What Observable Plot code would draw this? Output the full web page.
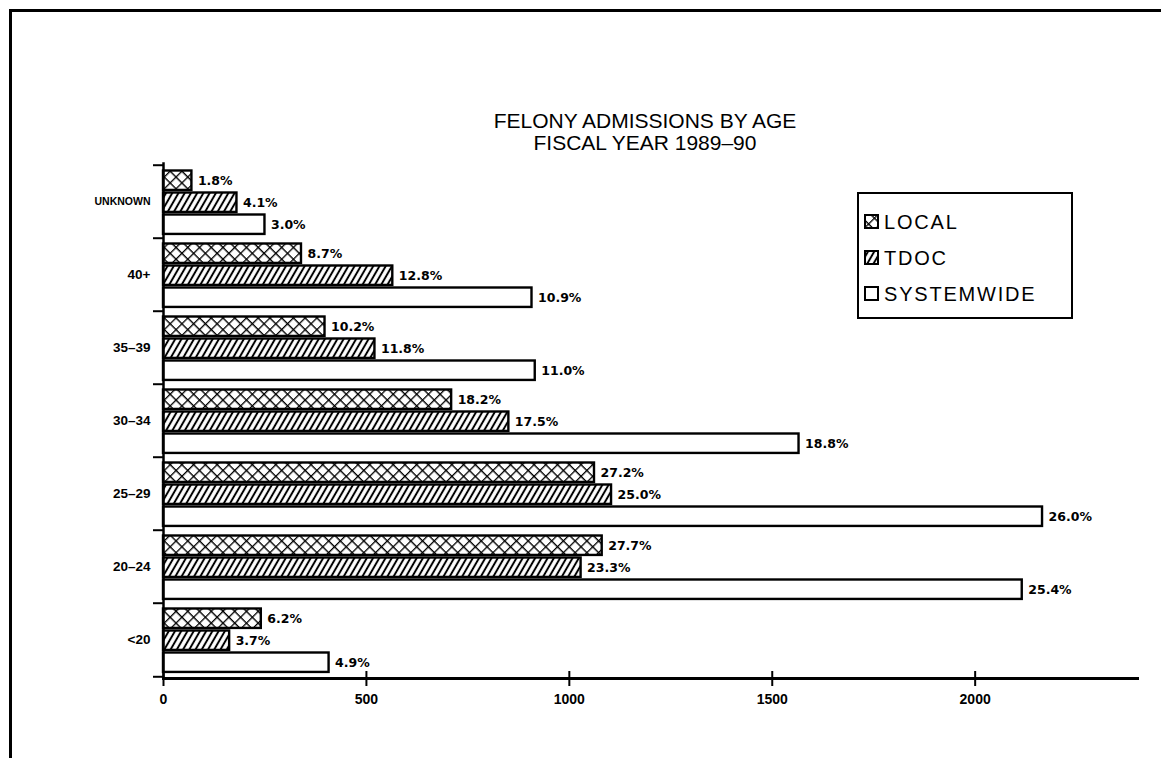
<!DOCTYPE html>
<html>
<head>
<meta charset="utf-8">
<script src="https://cdn.jsdelivr.net/npm/d3@7"></script>
<script src="https://cdn.jsdelivr.net/npm/@observablehq/plot@0.6"></script>
<style>
  body { margin: 0; background: #fff; }
  #page { position: relative; width: 1161px; height: 758px; overflow: hidden; background: #fff; }
  #page svg.chart { position: absolute; left: 0; top: 0; }
  #border { position: absolute; left: 9px; top: 9px; right: -10px; bottom: -10px;
            border-top: 3px solid #000; border-left: 3px solid #000; pointer-events: none; }
  #title { position: absolute; left: 345px; top: 110px; width: 600px; text-align: center;
           font-family: "Liberation Sans", Arial, sans-serif; font-size: 21px; line-height: 22px; color: #000; }
</style>
</head>
<body>
<div id="page">
  <div id="border"></div>
  <div id="title">FELONY ADMISSIONS BY AGE<br>FISCAL YEAR 1989–90</div>
</div>
<script>
// Age groups, top to bottom
const ageGroups = ["UNKNOWN", "40+", "35–39", "30–34", "25–29", "20–24", "<20"];
const series = ["LOCAL", "TDOC", "SYSTEMWIDE"];

// Admissions (counts) per age group
const localCounts      = [70, 340, 398, 710, 1062, 1081, 241];
const tdocCounts       = [181, 565, 521, 851, 1104, 1029, 163];
const systemwideCounts = [250, 908, 916, 1566, 2166, 2116, 408];

// Share of each series' total, as printed next to the bars
const localPct      = ["1.8%", "8.7%", "10.2%", "18.2%", "27.2%", "27.7%", "6.2%"];
const tdocPct       = ["4.1%", "12.8%", "11.8%", "17.5%", "25.0%", "23.3%", "3.7%"];
const systemwidePct = ["3.0%", "10.9%", "11.0%", "18.8%", "26.0%", "25.4%", "4.9%"];

const xTicks = [0, 500, 1000, 1500, 2000];

const countsBySeries = {LOCAL: localCounts, TDOC: tdocCounts, SYSTEMWIDE: systemwideCounts};
const pctBySeries = {LOCAL: localPct, TDOC: tdocPct, SYSTEMWIDE: systemwidePct};
const rows = series.flatMap(s => ageGroups.map((g, i) => ({
  group: g, series: s, count: countsBySeries[s][i], label: pctBySeries[s][i]
})));

// Layout
const W = 1161, H = 758;
const mL = 163, mR = 24, mT = 163, mB = 80;
const bw = (H - mT - mB) / ageGroups.length;   // height of one age-group band
const barH = 20, gap = 2, top0 = 5.5;           // bars stacked inside each band
const fills = {LOCAL: "url(#fill-local)", TDOC: "url(#fill-tdoc)", SYSTEMWIDE: "#fff"};

const labelFont = "'Liberation Sans', Arial, sans-serif";
const valueFont = "'DejaVu Sans', sans-serif";

const marks = [];
series.forEach((s, k) => {
  const data = rows.filter(d => d.series === s);
  const offTop = top0 + k * (barH + gap);
  marks.push(Plot.barX(data, {
    x: "count", y: "group", fill: fills[s], stroke: "#000", strokeWidth: 2.4,
    insetTop: offTop, insetBottom: bw - offTop - barH
  }));
  marks.push(Plot.text(data, {
    x: "count", y: "group", text: "label", dx: 6, dy: offTop + barH / 2 - bw / 2,
    textAnchor: "start", fontWeight: "bold", fontSize: 12.5, fontFamily: valueFont, fill: "#000"
  }));
});

// Axes
marks.push(
  Plot.frame({anchor: "left", strokeWidth: 2.5, stroke: "#000"}),
  Plot.frame({anchor: "bottom", strokeWidth: 3, stroke: "#000"}),
  // group separators on the y axis
  Plot.axisY({tickSize: 10, tickFormat: () => "", label: null, dy: -bw / 2, strokeWidth: 2}),
  Plot.axisY([ageGroups[ageGroups.length - 1]], {tickSize: 10, tickFormat: () => "", label: null, dy: bw / 2, strokeWidth: 2}),
  // age-group labels
  Plot.text(ageGroups, {
    y: d => d, text: d => d, frameAnchor: "left", dx: -13, textAnchor: "end",
    fontWeight: "bold", fontFamily: d => d.length > 5 ? "'Liberation Sans Narrow', 'DejaVu Sans Condensed', sans-serif" : labelFont,
    fontSize: d => d.length > 5 ? 10.5 : 13.5, fill: "#000"
  }),
  // x ticks crossing the baseline, with their labels below
  Plot.axisX({ticks: xTicks, tickSize: 15, dy: -7, tickFormat: () => "", label: null, strokeWidth: 2}),
  Plot.text(xTicks, {
    x: d => d, text: d => String(d), frameAnchor: "bottom", dy: 21, lineAnchor: "middle",
    fontWeight: "bold", fontSize: 14, fontFamily: labelFont, fill: "#000"
  })
);

const chart = Plot.plot({
  width: W, height: H,
  marginLeft: mL, marginRight: mR, marginTop: mT, marginBottom: mB,
  x: {domain: [0, 2400], axis: null},
  y: {domain: ageGroups, axis: null, paddingInner: 0, paddingOuter: 0},
  style: {background: "transparent", fontFamily: labelFont, color: "#000"},
  marks
});
chart.classList.add("chart");

// Hatch patterns for the bars
const svg = d3.select(chart);
const defs = svg.insert("defs", ":first-child");
const pLocal = defs.append("pattern")
  .attr("id", "fill-local").attr("patternUnits", "userSpaceOnUse")
  .attr("width", 8.3).attr("height", 8.3).attr("patternTransform", "rotate(45)");
pLocal.append("rect").attr("width", 8.3).attr("height", 8.3).attr("fill", "#fff");
pLocal.append("path").attr("d", "M0,0H8.3M0,0V8.3").attr("stroke", "#000").attr("stroke-width", 2.6);
const pTdoc = defs.append("pattern")
  .attr("id", "fill-tdoc").attr("patternUnits", "userSpaceOnUse")
  .attr("width", 5.4).attr("height", 10).attr("patternTransform", "rotate(30)");
pTdoc.append("rect").attr("width", 5.4).attr("height", 10).attr("fill", "#fff");
pTdoc.append("path").attr("d", "M2.7,-1V11").attr("stroke", "#000").attr("stroke-width", 2);

// Legend box
const lg = svg.append("g").attr("class", "legend").attr("text-anchor", "start");
lg.append("rect").attr("x", 858).attr("y", 193).attr("width", 214).attr("height", 125)
  .attr("fill", "#fff").attr("stroke", "#000").attr("stroke-width", 2);
series.forEach((s, k) => {
  const cy = 222 + k * 36;
  lg.append("rect").attr("x", 865).attr("y", cy - 7).attr("width", 13).attr("height", 13)
    .attr("fill", fills[s]).attr("stroke", "#000").attr("stroke-width", 2);
  lg.append("text").attr("x", 884).attr("y", cy).attr("dy", "0.36em")
    .attr("text-anchor", "start")
    .attr("font-family", labelFont).attr("font-size", 20).attr("letter-spacing", 1.8)
    .attr("fill", "#000").text(s);
});

document.getElementById("page").prepend(chart);
</script>
</body>
</html>
